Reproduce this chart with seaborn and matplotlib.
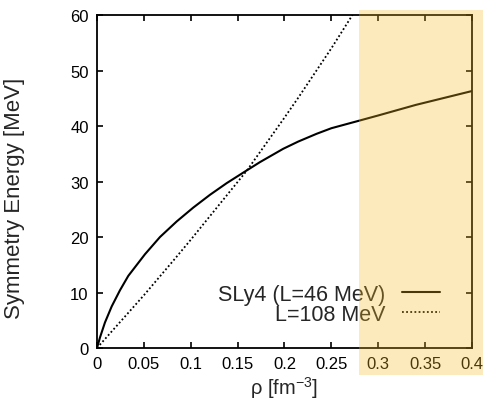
import matplotlib
matplotlib.use("Agg")
import matplotlib.pyplot as plt
from matplotlib.patches import Rectangle
import pandas as pd
import seaborn as sns

# Data
rho_sly4 = [0.0, 0.0032, 0.0085, 0.0157, 0.0245, 0.0334, 0.0512, 0.0672, 0.085,
            0.1027, 0.1205, 0.1383, 0.156, 0.1739, 0.1987, 0.2147, 0.2343,
            0.25, 0.2805, 0.30, 0.34, 0.4]
e_sly4 = [0.0, 1.9, 4.6, 7.5, 10.4, 13.0, 16.9, 20.0, 22.8,
          25.3, 27.6, 29.7, 31.6, 33.5, 35.9, 37.2, 38.6,
          39.6, 41.0, 41.9, 43.8, 46.3]
rho_l108 = [0.0, 0.05, 0.0832, 0.10, 0.16, 0.1987, 0.2147, 0.25, 0.271, 0.28]
e_l108 = [0.0, 9.5, 16.1, 19.5, 32.0, 41.2, 45.1, 54.0, 59.6, 62.1]
label_sly4 = "SLy4 (L=46 MeV)"
label_l108 = "L=108 MeV"
xticks = [0, 0.05, 0.1, 0.15, 0.2, 0.25, 0.3, 0.35, 0.4]
xticklabels = ["0", "0.05", "0.1", "0.15", "0.2", "0.25", "0.3", "0.35", "0.4"]
yticks = [0, 10, 20, 30, 40, 50, 60]

sns.set_theme(style="ticks")
plt.rcParams["font.family"] = ["Liberation Sans", "DejaVu Sans"]
plt.rcParams["mathtext.fontset"] = "custom"
plt.rcParams["mathtext.rm"] = "Liberation Sans"

fig = plt.figure(figsize=(4.83, 4.02), dpi=100)
ax = fig.add_axes([0.2008, 0.1318, 0.7764, 0.8284])

df1 = pd.DataFrame({"rho": rho_sly4, "E": e_sly4})
df2 = pd.DataFrame({"rho": rho_l108, "E": e_l108})
sns.lineplot(data=df1, x="rho", y="E", ax=ax, color="black", lw=1.5,
             label=label_sly4)
sns.lineplot(data=df2, x="rho", y="E", ax=ax, color="black", lw=1.3,
             linestyle=(0, (1, 1.3)), label=label_l108)

ax.set_xlim(0, 0.4)
ax.set_ylim(0, 60)
ax.set_xticks(xticks)
ax.set_xticklabels(xticklabels)
ax.set_yticks(yticks)
ax.tick_params(direction="in", length=4, width=1.2, top=True, right=True,
               labelsize=12, colors="black", pad=6)
for s in ax.spines.values():
    s.set_linewidth(1.3)
    s.set_color("black")
ax.set_xlabel(r"ρ [fm$^{-3}$]", fontsize=14.5)
ax.set_ylabel("Symmetry Energy [MeV]", fontsize=16)
ax.xaxis.set_label_coords(0.5, -0.078)
ax.yaxis.set_label_coords(-0.193, 0.453)

leg = ax.legend(loc="lower right", bbox_to_anchor=(0.915, 0.07), frameon=False,
                markerfirst=False, fontsize=15.5, handlelength=1.75,
                handletextpad=0.8, borderpad=0, borderaxespad=0,
                labelspacing=-0.05)

fig.add_artist(Rectangle((0.744, 0.0647), 0.256, 0.908,
                         transform=fig.transFigure,
                         facecolor=(248 / 255, 188 / 255, 38 / 255),
                         edgecolor="none", alpha=0.3, zorder=10))

fig.savefig("out.png", dpi=100)
